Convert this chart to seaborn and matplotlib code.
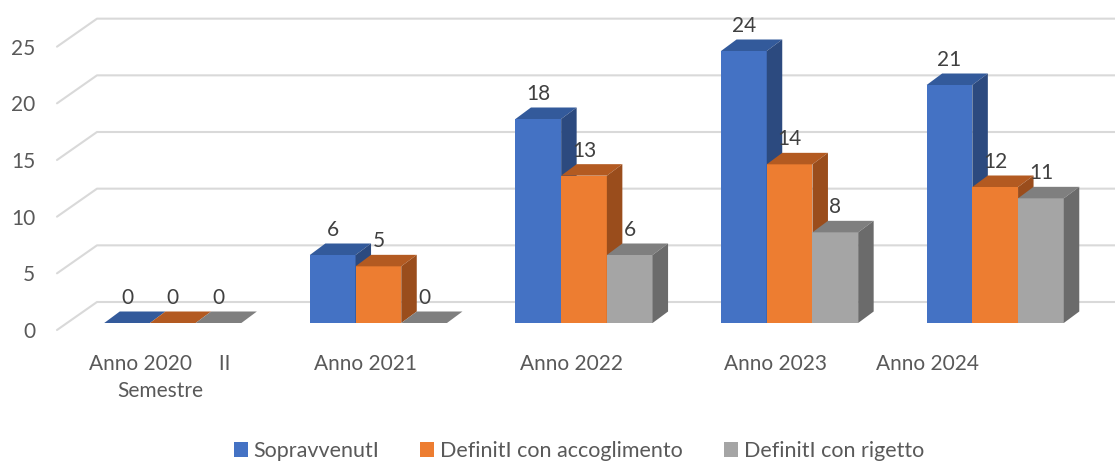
import matplotlib
matplotlib.use("Agg")
import matplotlib.pyplot as plt
import pandas as pd
import seaborn as sns
from matplotlib.patches import Polygon
from matplotlib.transforms import ScaledTranslation

# data
categories = ["Anno 2020     II\nSemestre", "Anno 2021", "Anno 2022", "Anno 2023", "Anno 2024"]
series = ["SopravvenutI", "DefinitI con accoglimento", "DefinitI con rigetto"]
sopravvenuti = [0, 6, 18, 24, 21]
accoglimento = [0, 5, 13, 14, 12]
rigetto = [0, 0, 6, 8, 11]
y_ticks = [0, 5, 10, 15, 20, 25]

front_colors = ["#4472C4", "#ED7D31", "#A5A5A5"]
top_colors = ["#335A9B", "#B35A21", "#7F7F7F"]
side_colors = ["#2C4A7F", "#9A4D1C", "#6B6B6B"]

df = pd.DataFrame({
    "anno": categories * 3,
    "serie": [s for s in series for _ in categories],
    "valore": sopravvenuti + accoglimento + rigetto,
})

sns.set_theme(style="white")
plt.rcParams["font.family"] = ["Lato", "DejaVu Sans"]

W, H = 1115, 462
fig = plt.figure(figsize=(W / 100, H / 100), dpi=100)
ax = fig.add_axes([70 / W, 139 / H, 1028 / W, 306 / H])

sns.barplot(data=df, x="anno", y="valore", hue="serie", order=categories,
            hue_order=series, palette=front_colors, saturation=1,
            width=0.667, gap=0, linewidth=0, ax=ax)
ax.set_xlim(-0.5, 4.5)
ax.set_ylim(0, 27)
ax.set_xlabel("")
ax.set_ylabel("")
sns.despine(ax=ax, left=True, bottom=True)

# pixel -> data scale for the fake 3d look
ppx = 1028 / 5
ppy = 306 / 27
dx, dy = 15.5 / ppx, 11.5 / ppy

for i, cont in enumerate(ax.containers):
    for j, bar in enumerate(cont):
        x0, w, h = bar.get_x(), bar.get_width(), bar.get_height()
        z = 3 + j + i * 0.2
        bar.set_zorder(z)
        top = Polygon([(x0, h), (x0 + w, h), (x0 + w + dx, h + dy), (x0 + dx, h + dy)],
                      closed=True, facecolor=top_colors[i], edgecolor="none",
                      zorder=z, clip_on=False)
        side = Polygon([(x0 + w, 0), (x0 + w + dx, dy), (x0 + w + dx, h + dy), (x0 + w, h)],
                       closed=True, facecolor=side_colors[i], edgecolor="none",
                       zorder=z, clip_on=False)
        ax.add_patch(top)
        ax.add_patch(side)
        ax.annotate(f"{h:.0f}", (x0 + w / 2, h), xytext=(0, 18),
                    textcoords="offset points", ha="center", va="center",
                    fontsize=15, color="#404040", zorder=20)

# back wall gridlines with the little floor diagonal
x_front = (57 - 70) / ppx - 0.5
x_back = (97 - 70) / ppx - 0.5
x_right = (1115 - 70) / ppx - 0.5
for v in y_ticks:
    yb = v + 21 / ppy
    yf = v - 7 / ppy
    ax.plot([x_front, x_back, x_right], [yf, yb, yb], color="#D9D9D9",
            lw=1.5, clip_on=False, zorder=1)

ax.set_yticks(y_ticks)
ax.tick_params(axis="y", length=0, pad=25, labelsize=15, labelcolor="#595959")
shift = ScaledTranslation(0, -7 / 100, fig.dpi_scale_trans)
for lbl in ax.get_yticklabels():
    lbl.set_transform(lbl.get_transform() + shift)

ax.set_xticks(range(len(categories)))
ax.set_xticklabels(categories)
ax.tick_params(axis="x", length=0, pad=22, labelsize=15, labelcolor="#595959")
x_label_shift = [-13, -13, -12.5, -14.5, -68]
for lbl, s in zip(ax.get_xticklabels(), x_label_shift):
    lbl.set_transform(lbl.get_transform() + ScaledTranslation(s / 100, 0, fig.dpi_scale_trans))
    lbl.set_linespacing(1.45)

sns.move_legend(ax, "center", bbox_to_anchor=(579 / W, 11 / H),
                bbox_transform=fig.transFigure, ncol=3, frameon=False, title=None,
                fontsize=15.5, handlelength=0.65, handleheight=0.65,
                handletextpad=0.28, columnspacing=1.9)
for t in ax.get_legend().get_texts():
    t.set_color("#595959")

fig.savefig("out.png", dpi=100)
